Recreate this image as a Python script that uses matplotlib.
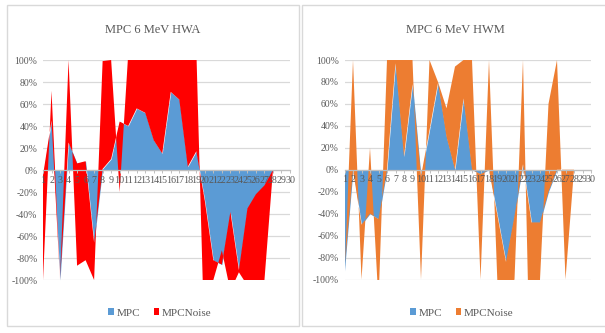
import matplotlib
matplotlib.use("Agg")
import matplotlib.pyplot as plt
import numpy as np
from matplotlib.patches import Rectangle, Patch
from matplotlib.ticker import FuncFormatter, FixedLocator

plt.rcParams['font.family'] = ['Liberation Serif', 'DejaVu Serif']
plt.rcParams['axes.unicode_minus'] = False

# Categories (measurement index)
categories = list(range(1, 31))

# HWA: MPC and MPCNoise (percent), stacked area
hwa_mpc = [-5, 45, -100, 25, 6, 8, -66, 1, 10, 44,
           40, 56, 52, 27, 15, 71, 64, 3, 17, -28,
           -82, -86, -38, -91, -35, -22, -14, 0, 0, 0]
hwa_noise = [-95, 27, 0, 75, -93, -90, -34, 98, 90, -64,
             65, 94, 98, 123, 135, 79, 86, 147, 93, -142,
             -18, 13, -72, -2, -70, -88, -86, 0, 0, 0]

# HWM: MPC and MPCNoise (percent), stacked area
hwm_mpc = [-92, 0, -50, -40, -45, 0, 97, 12, 78, -6,
           36, 79, 30, 0, 65, 0, -4, 0, -42, -84,
           -42, 5, -48, -48, -20, 0, 0, 0, 0, 0]
hwm_noise = [-8, 100, -50, 60, -75, 100, 53, 138, 22, -94,
             64, 1, 26, 94, 35, 100, -96, 100, -63, -26,
             -58, 95, -202, -52, 80, 100, -100, 0, 0, 0]

y_ticks = [-100, -80, -60, -40, -20, 0, 20, 40, 60, 80, 100]

BLUE = '#5B9BD5'
RED = '#FF0000'
ORANGE = '#ED7D31'
TEXT = '#595959'
GRID = '#D9D9D9'

W, H = 605, 333
fig = plt.figure(figsize=(W / 100, H / 100), dpi=100)


def fx(x):
    return x / W


def fy(y):
    return 1 - y / H


# chart frames
for x0, x1 in [(7, 299), (302, 612)]:
    fig.patches.append(Rectangle((fx(x0), fy(326)), fx(x1 - x0), (326 - 5) / H,
                                 transform=fig.transFigure, fill=False,
                                 edgecolor=GRID, lw=1.0))


def draw(ax, title, mpc, noise, color, cx):
    x = np.array(categories, dtype=float)
    base = np.array(mpc, dtype=float)
    top = base + np.array(noise, dtype=float)
    ax.fill_between(x, 0, base, color=BLUE, lw=0, zorder=1)
    ax.fill_between(x, base, top, color=color, lw=0, zorder=1.1)

    ax.set_xlim(categories[0], categories[-1])
    ax.set_ylim(y_ticks[0], y_ticks[-1])
    ax.yaxis.set_major_locator(FixedLocator(y_ticks))
    ax.yaxis.set_major_formatter(FuncFormatter(lambda v, p: f"{v:.0f}%"))
    ax.set_xticks(categories)
    ax.set_xticklabels([str(c) for c in categories])
    ax.set_axisbelow(True)
    ax.grid(axis='y', color=GRID, lw=0.9)
    ax.grid(axis='x', visible=False)
    # category axis and its labels sit on top of the areas
    ax.xaxis.set_zorder(3)
    for s in ['left', 'right', 'top']:
        ax.spines[s].set_visible(False)
    ax.spines['bottom'].set_position(('data', 0))
    ax.spines['bottom'].set_color('#BFBFBF')
    ax.spines['bottom'].set_linewidth(0.9)
    ax.spines['bottom'].set_zorder(3)
    ax.tick_params(axis='y', length=0, labelsize=7, labelcolor=TEXT, pad=4)
    ax.tick_params(axis='x', direction='out', length=2.5, width=0.7,
                   color='#BFBFBF', labelsize=7.2, labelcolor=TEXT, pad=1.5)
    ax.patch.set_alpha(0)

    fig.text(fx(cx), fy(30), title, ha='center', va='center',
             fontsize=9, color=TEXT)
    handles = [Patch(facecolor=BLUE, edgecolor='none', label='MPC'),
               Patch(facecolor=color, edgecolor='none', label='MPCNoise')]
    fig.legend(handles=handles, loc='center', bbox_to_anchor=(fx(cx + 7), fy(313)),
               ncol=2, frameon=False, fontsize=8, labelcolor=TEXT,
               handlelength=0.5, handleheight=0.5, handletextpad=0.25,
               columnspacing=1.2)


axL = fig.add_axes([fx(43), fy(280), (290 - 43) / W, (280 - 60) / H])
axR = fig.add_axes([fx(344.5), fy(279.5), (591 - 344.5) / W, (279.5 - 60) / H])

draw(axL, 'MPC 6 MeV HWA', hwa_mpc, hwa_noise, RED, 153)
draw(axR, 'MPC 6 MeV HWM', hwm_mpc, hwm_noise, ORANGE, 455)

fig.savefig('out.png', dpi=100)
